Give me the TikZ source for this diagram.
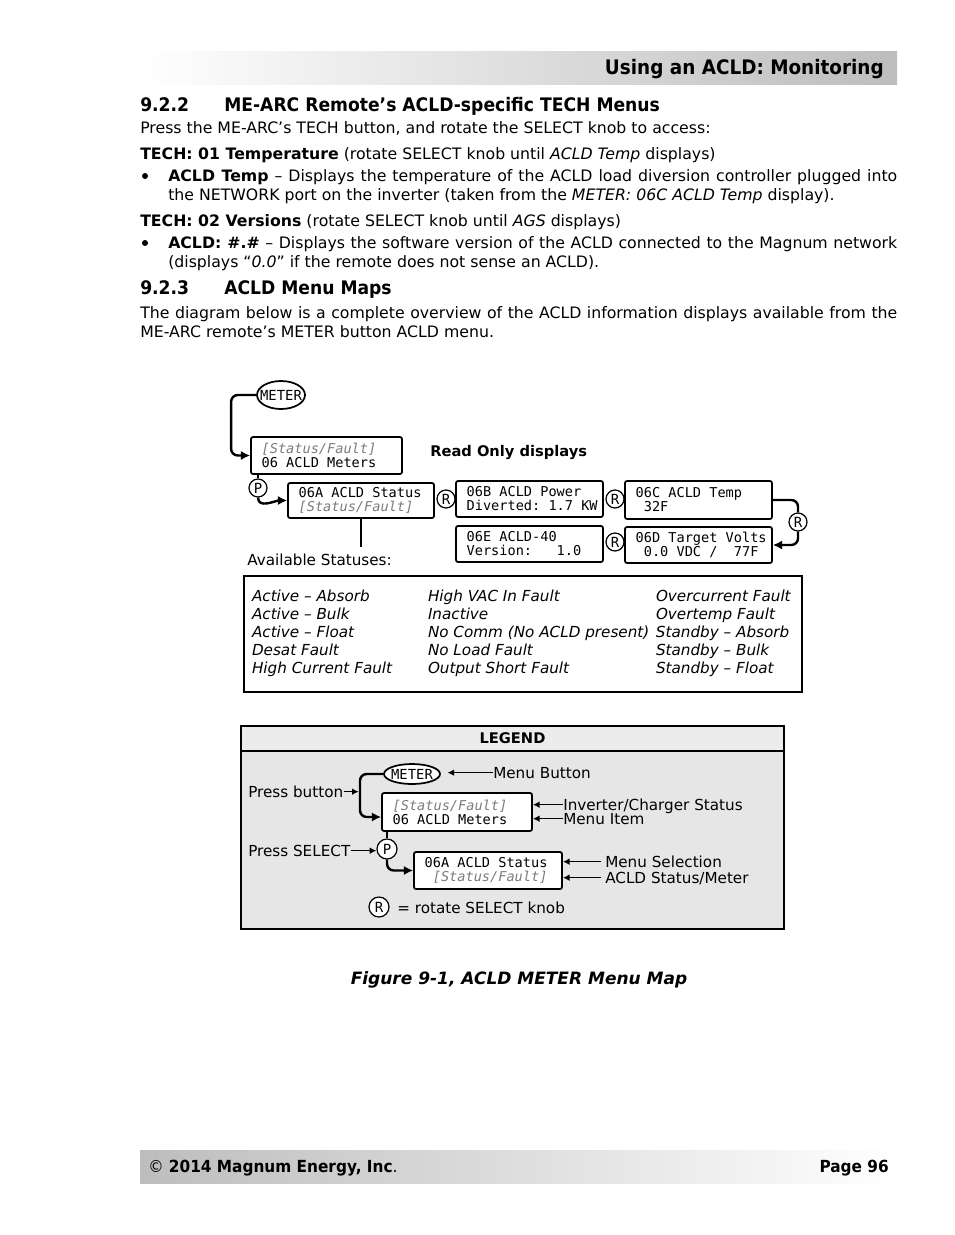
\documentclass[tikz,border=0pt]{standalone}
\usepackage{fontspec}
\setmainfont{DejaVu Sans}
\setmonofont{DejaVu Sans Mono}
\newfontfamily\headfont{DejaVu Sans}[FakeStretch=0.92]
\usetikzlibrary{arrows.meta,shapes.geometric}

\definecolor{legendgray}{HTML}{E6E6E6}
\definecolor{legendhead}{HTML}{ECECEC}
\definecolor{barshade}{HTML}{BDBDBD}
\definecolor{faultgray}{HTML}{7C7C7C}

\newcommand{\faultit}[1]{{\color{faultgray}\itshape #1}}
\newcommand{\lcdlines}[2]{\spaceskip=0pt\relax\xspaceskip=0pt\relax\hspace*{8pt}#1\\\hspace*{8pt}#2}

\tikzset{
  txt/.style={anchor=base west, inner sep=0pt, font=\fontsize{11.8}{14.25}\selectfont},
  para/.style={text width=546.75pt, align=justify},
  headtxt/.style={anchor=base west, inner sep=0pt, font=\headfont\bfseries\fontsize{14}{16}\selectfont},
  boldtxt/.style={anchor=base west, inner sep=0pt, font=\bfseries\fontsize{11}{13}\selectfont},
  legtxt/.style={anchor=base west, inner sep=0pt, text height=8pt, text depth=0pt, font=\fontsize{11.4}{13}\selectfont},
  lcdbox/.style={draw, line width=1.3pt, rounded corners=1.5pt, fill=white,
    text width=110.25pt, minimum height=27pt, inner xsep=0pt, inner ysep=0pt,
    align=flush left, font=\ttfamily\fontsize{10.2}{10.5}\selectfont},
  knob/.style={circle, draw, line width=0.9pt, fill=white, minimum size=13.5pt,
    inner sep=0pt, font=\ttfamily\fontsize{10.5}{10.5}\selectfont},
  button/.style={ellipse, draw, line width=1.3pt, fill=white, inner sep=0pt,
    font=\ttfamily\fontsize{10.4}{10.5}\selectfont},
  bulletdot/.style={circle, fill, inner sep=0pt, minimum size=4.5pt},
  flow/.style={line width=1.8pt, rounded corners=5pt, -{Latex[length=7pt,width=7pt]}},
  flowline/.style={line width=1.8pt, rounded corners=5pt},
  pointer/.style={line width=1pt, -{Latex[length=5pt,width=5pt]}},
  stem/.style={line width=1.2pt}
}

\begin{document}
\begin{tikzpicture}[x=0.75pt, y=-0.75pt]
  \fill[white] (0,0) rectangle (954,1235);
  \useasboundingbox (0,0) rectangle (954,1235);

  % page head
  \shade[left color=white, right color=barshade] (140,51) rectangle (897,84);
  \node[headtxt, anchor=base east, font=\headfont\bfseries\fontsize{15}{17}\selectfont] (pagehead) at (884,74) {Using an ACLD: Monitoring};

  % 9.2.2 text
  \node[headtxt] (sec922) at (140,111) {\makebox[63pt][l]{9.2.2}ME-ARC Remote’s ACLD-specific TECH Menus};
  \node[txt] (intro) at (140,133) {Press the ME-ARC’s TECH button, and rotate the SELECT knob to access:};
  \node[txt] (tech01) at (140,159) {\textbf{TECH: 01 Temperature} (rotate SELECT knob until \textit{ACLD Temp} displays)};
  \node[bulletdot] (dot1) at (145,176) {};
  \node[txt, para] (tempitem) at (168,181) {\textbf{ACLD Temp} – Displays the temperature of the ACLD load diversion controller plugged into\linebreak the NETWORK port on the inverter (taken from the \textit{METER: 06C ACLD Temp} display).};
  \node[txt] (tech02) at (140,226) {\textbf{TECH: 02 Versions} (rotate SELECT knob until \textit{AGS} displays)};
  \node[bulletdot] (dot2) at (145,243) {};
  \node[txt, para] (versitem) at (168,248) {\textbf{ACLD: \#.\#} – Displays the software version of the ACLD connected to the Magnum network\linebreak (displays “\textit{0.0}” if the remote does not sense an ACLD).};

  % 9.2.3 text
  \node[headtxt] (sec923) at (140,294) {\makebox[63pt][l]{9.2.3}ACLD Menu Maps};
  \node[txt, text width=567.75pt, align=justify] (overview) at (140,318) {The diagram below is a complete overview of the ACLD information displays available from the\linebreak ME-ARC remote’s METER button ACLD menu.};

  % menu map
  \node[button, minimum width=36pt, minimum height=21pt] (meter) at (281,395) {\makebox[0pt]{METER}};
  \node[lcdbox, text width=113.25pt, minimum height=27.75pt] (meters) at (326.5,455.5) {\lcdlines{\faultit{[Status/Fault]}}{06 ACLD Meters}};
  \node[boldtxt] (readonly) at (430,456) {Read Only displays};
  \node[knob] (P) at (258,488) {P};
  \node[lcdbox, text width=109.5pt, minimum height=26.25pt] (a06a) at (361,500.5) {\lcdlines{06A ACLD Status}{\faultit{[Status/Fault]}}};
  \node[knob] (R1) at (446,499) {R};
  \node[lcdbox] (b06b) at (529.5,499) {\lcdlines{06B ACLD Power}{Diverted: 1.7 KW}};
  \node[knob] (R2) at (615,499) {R};
  \node[lcdbox, minimum height=28.5pt] (c06c) at (698.5,500) {\lcdlines{06C ACLD Temp}{\hphantom{0}32F}};
  \node[knob] (R3) at (798,522) {R};
  \node[lcdbox] (d06d) at (698.5,545) {\lcdlines{06D Target Volts}{\hphantom{0}0.0 VDC /\hphantom{00}77F}};
  \node[knob] (R4) at (615,542) {R};
  \node[lcdbox] (e06e) at (529.5,544) {\lcdlines{06E ACLD-40}{Version:\hphantom{000}1.0}};
  \node[legtxt] (avail) at (247,565) {Available Statuses:};
  \node[draw, line width=1pt, minimum width=418.5pt, minimum height=87pt, inner sep=0pt] (statuses) at (523,634)
    {\fontsize{11.4}{13.5}\selectfont\itshape
     \begin{tabular}{@{}p{132pt}@{}p{171pt}@{}p{103.5pt}@{}}
       Active – Absorb & High VAC In Fault & Overcurrent Fault\\
       Active – Bulk & Inactive & Overtemp Fault\\
       Active – Float & No Comm (No ACLD present) & Standby – Absorb\\
       Desat Fault & No Load Fault & Standby – Bulk\\
       High Current Fault & Output Short Fault & Standby – Float
     \end{tabular}};

  \draw[flow] (meter.west) -- ++(-25,0) |- (meters.west);
  \draw[stem] (meters.south -| P) -- (P);
  \draw[flow] (P.south) to[out=-90, in=180] (a06a.west);
  \draw[flowline] (c06c.east) -| (R3);
  \draw[flow] (R3) |- (d06d.east);
  \draw[stem] (a06a.south) -- ([yshift=5pt]a06a.south |- avail.north);

  % legend
  \draw[line width=1.5pt, fill=legendgray] (241,726) rectangle (784,929);
  \draw[line width=1.5pt, fill=legendhead] (241,726) rectangle (784,751);
  \node[boldtxt, anchor=base] (legendtitle) at (512.5,743) {LEGEND};
  \node[button, minimum width=42pt, minimum height=15pt] (lmeter) at (412,774) {\makebox[0pt]{METER}};
  \coordinate (lbend) at (360,774);
  \node[legtxt] (lbtnlbl) at (493,778) {Menu Button};
  \node[legtxt] (pressbtn) at (248,797) {Press button};
  \node[lcdbox, text width=112.5pt, minimum height=28.5pt] (lmeters) at (457,812) {\lcdlines{\faultit{[Status/Fault]}}{06 ACLD Meters}};
  \node[legtxt] (lstatlbl) at (563,810) {Inverter/Charger Status};
  \node[legtxt] (litemlbl) at (563,824) {Menu Item};
  \node[knob, minimum size=15pt] (lP) at (387,849) {P};
  \node[legtxt] (presssel) at (248,856) {Press SELECT};
  \node[lcdbox, text width=111pt, minimum height=27.75pt] (l06a) at (488,870.5) {\lcdlines{06A ACLD Status}{\hphantom{0}\faultit{[Status/Fault]}}};
  \node[legtxt] (lsellbl) at (605,867) {Menu Selection};
  \node[legtxt] (lacldlbl) at (605,883) {ACLD Status/Meter};
  \node[knob, minimum size=15pt] (lR) at (379,907) {R};
  \node[legtxt] (lrotlbl) at (397,913) {= rotate SELECT knob};

  \draw[flow] (lmeter.west) -- (lbend) |- ([yshift=-3.75pt]lmeters.west);
  \draw[pointer, shorten >=1pt] (pressbtn.east) -- (pressbtn.east -| lbend);
  \draw[pointer, shorten >=5pt] (lbtnlbl.west) -- (lbtnlbl.west -| lmeter.east);
  \draw[pointer] (lstatlbl.west) -- (lstatlbl.west -| lmeters.east);
  \draw[pointer] (litemlbl.west) -- (litemlbl.west -| lmeters.east);
  \draw[stem] (lmeters.south -| lP) -- (lP);
  \draw[pointer] (presssel.east) -- (presssel.east -| lP.west);
  \draw[flow] (lP.south) |- (l06a.west);
  \draw[pointer] ([xshift=-3pt]lsellbl.west) -- (lsellbl.west -| l06a.east);
  \draw[pointer] ([xshift=-3pt]lacldlbl.west) -- (lacldlbl.west -| l06a.east);

  % caption and page foot
  \node[txt, anchor=base, font=\bfseries\itshape\fontsize{12.75}{15}\selectfont] (caption) at (519,984) {Figure 9-1, ACLD METER Menu Map};
  \shade[left color=barshade, right color=white] (140,1150) rectangle (897,1183);
  \node[headtxt, font=\headfont\bfseries\fontsize{12.5}{14}\selectfont] (copyright) at (148,1172) {{\mdseries ©} 2014 Magnum Energy, Inc{\mdseries .}};
  \node[headtxt, anchor=base east, font=\headfont\bfseries\fontsize{12.5}{14}\selectfont] (pagenum) at (889,1172) {Page 96};
\end{tikzpicture}
\end{document}
